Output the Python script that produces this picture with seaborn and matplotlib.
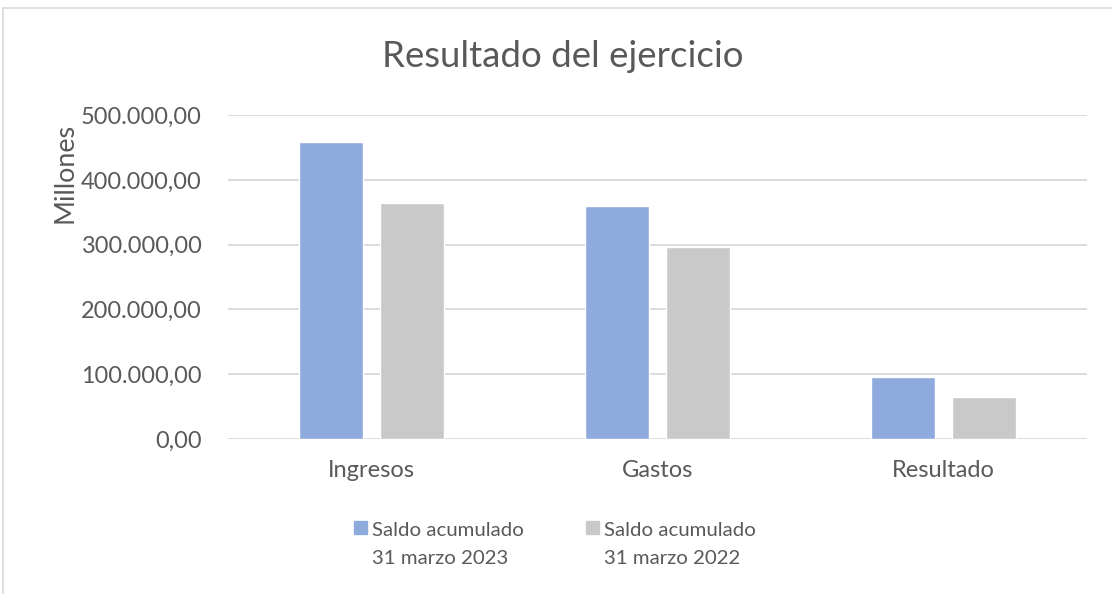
import numpy as np
import pandas as pd
import matplotlib
matplotlib.use('Agg')
import matplotlib.pyplot as plt
from matplotlib.ticker import FuncFormatter
from matplotlib.patches import Rectangle
from matplotlib.legend_handler import HandlerPatch
import seaborn as sns

# data (millions)
categories = ['Ingresos', 'Gastos', 'Resultado']
series_names = ['Saldo acumulado\n31 marzo 2023', 'Saldo acumulado\n31 marzo 2022']
saldo_2023 = [459000, 360500, 95700]
saldo_2022 = [365200, 296800, 64800]
colors = ['#8FAADC', '#C9C9C9']

df = pd.DataFrame({
    'categoria': categories * 2,
    'serie': [series_names[0]] * 3 + [series_names[1]] * 3,
    'valor': saldo_2023 + saldo_2022,
})

sns.set_theme(style='white')
plt.rcParams['font.family'] = ['Lato', 'DejaVu Sans']
txt = '#595959'
grid = '#D9D9D9'

fig = plt.figure(figsize=(11.12, 5.94), dpi=100)
ax = fig.add_axes([0.205, 0.261, 0.7725, 0.545])

sns.barplot(data=df, x='categoria', y='valor', hue='serie', order=categories,
            hue_order=series_names, palette=colors, width=0.566, gap=0.21,
            saturation=1, ax=ax, legend=False)

ax.set_xlim(-0.5, 2.5)
ax.set_ylim(0, 500000)
ax.set_yticks(np.arange(0, 500001, 100000))
ax.yaxis.set_major_formatter(FuncFormatter(
    lambda v, p: f'{v:,.2f}'.replace(',', 'X').replace('.', ',').replace('X', '.')))
ax.grid(axis='y', color=grid, linewidth=1.3)
ax.set_axisbelow(True)
for s in ax.spines.values():
    s.set_visible(False)
ax.tick_params(axis='both', length=0, colors=txt)
ax.tick_params(axis='x', pad=15, labelsize=17)
ax.tick_params(axis='y', pad=19, labelsize=16.9)
ax.set_xlabel('')
ax.set_ylabel('Millones', color=txt, fontsize=19.4)
ax.yaxis.set_label_coords(-0.175, 0.821)

fig.text(0.506, 0.905, 'Resultado del ejercicio', ha='center', va='center',
         fontsize=26.4, color=txt)


# legend square sits next to the first text line, as in the reference
def top_square(legend, orig_handle, xdescent, ydescent, width, height, fontsize):
    return Rectangle((-xdescent, -ydescent + 0.8 * fontsize), width, height)


handles = [Rectangle((0, 0), 1, 1, color=c) for c in colors]
leg = fig.legend(handles, series_names, loc='center', bbox_to_anchor=(0.499, 0.084),
                 ncol=2, frameon=False, fontsize=14.7, handlelength=0.64,
                 handleheight=0.64, handletextpad=0.25, columnspacing=3.0,
                 labelcolor=txt,
                 handler_map={Rectangle: HandlerPatch(patch_func=top_square)})
for t in leg.get_texts():
    t.set_linespacing(1.8)
    t.set_multialignment('left')

# chart-area border
fig.patches.append(Rectangle((0.003, -0.05), 1.2, 1.036, transform=fig.transFigure,
                             fill=False, edgecolor='#D9D9D9', linewidth=1.2))

fig.savefig('out.png', dpi=100)
